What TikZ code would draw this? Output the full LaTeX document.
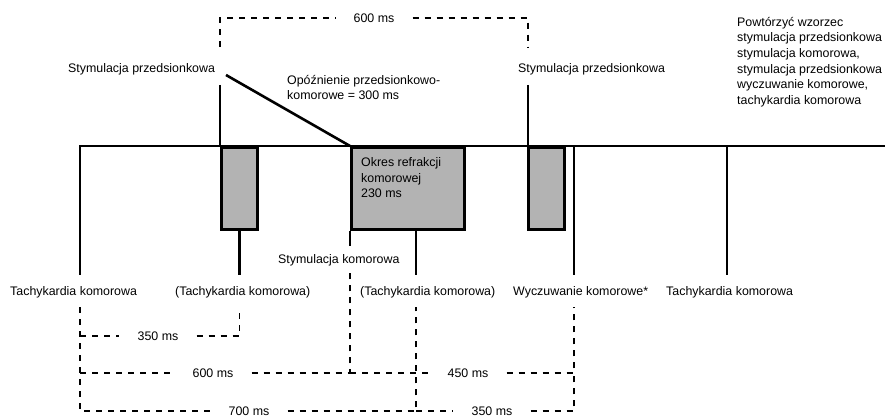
\documentclass[tikz,border=0pt]{standalone}
\usepackage{fontspec}
\setmainfont{Liberation Sans}
\definecolor{refgray}{RGB}{179,179,179}
\newcommand{\diagfont}{\fontsize{12.4}{15.6}\selectfont}
\usetikzlibrary{positioning}

\begin{document}
\begin{tikzpicture}[x=1pt, y=-1pt,
      every node/.style={font=\diagfont, inner sep=0pt},
      lbl/.style={anchor=base west},
      pulse/.style={line width=2.6pt},
      refbox/.style={draw, line width=2.6pt, fill=refgray, anchor=north west, minimum height=82pt},
      dim/.style={line width=1.2pt, dash pattern=on 6pt off 6pt},
      ms/.style={inner xsep=18pt}
    ]
    \useasboundingbox (0,0) rectangle (885,419);

    % Timeline points and levels
    \coordinate (t1) at (80,146);
    \coordinate (a1) at (220,146);
    \coordinate (v1) at (350,146);
    \coordinate (v2) at (416,146);
    \coordinate (a2) at (528,146);
    \coordinate (w1) at (574,146);
    \coordinate (t2) at (727,146);
    \coordinate (tend) at (885,146);
    \coordinate (yat) at (0,85);
    \coordinate (yend) at (0,275);
    \coordinate (ysk) at (0,246);
    \coordinate (ydt) at (0,47);
    \coordinate (ydb) at (0,307);
    \coordinate (ydv) at (0,272);
    \coordinate (avd) at (226,75);

    % Refractory boxes
    \node[refbox, minimum width=36pt] (ap1) at (a1) {};
    \node[refbox, minimum width=113pt] (vbox) at (v1) {};
    \node[refbox, minimum width=36pt] (ap2) at ([xshift=-1pt]a2) {};
    \node[lbl, align=left] (vrp) at (361,198) {Okres refrakcji\\komorowej\\230 ms};

    % Pulses
    \draw[pulse] (t1 |- yend) -- (t1) -- (tend);
    \draw[pulse] (a1 |- yat) -- (a1);
    \draw[pulse] (a2 |- yat) -- (a2);
    \draw[pulse] (avd) -- (v1);
    \draw[pulse] (ap1.south) -- (ap1.south |- yend);
    \draw[pulse] (v1 |- vbox.south) -- (v1 |- ysk);
    \draw[pulse] (v2 |- vbox.south) -- (v2 |- yend);
    \draw[pulse] (w1) -- (w1 |- yend);
    \draw[pulse] (t2) -- (t2 |- yend);

    % Labels
    \node[lbl] (sa1) at (68,73) {Stymulacja przedsionkowa};
    \node[lbl, align=left] (avdl) at (287,100) {Opóźnienie przedsionkowo-\\komorowe = 300 ms};
    \node[lbl] (sa2) at (518,73) {Stymulacja przedsionkowa};
    \node[lbl, align=left] (rep) at (737,104.4) {Powtórzyć wzorzec\\stymulacja przedsionkowa\\stymulacja komorowa,\\stymulacja przedsionkowa\\wyczuwanie komorowe,\\tachykardia komorowa};
    \node[lbl] (sv) at (278,264) {Stymulacja komorowa};
    \node[lbl] (tk1) at (10,295) {Tachykardia komorowa};
    \node[lbl] (tk2) at (175,295) {(Tachykardia komorowa)};
    \node[lbl] (tk3) at (360,295) {(Tachykardia komorowa)};
    \node[lbl] (wk) at (513,295) {Wyczuwanie komorowe*};
    \node[lbl] (tk4) at (666,295) {Tachykardia komorowa};

    % Intervals
    \node[ms] (m600t) at (374,18) {600 ms};
    \node[ms] (m350a) at (158,336) {350 ms};
    \node[ms] (m600b) at (213,373) {600 ms};
    \node[ms] (m700) at (249,411) {700 ms};
    \node[ms] (m450) at (468,373) {450 ms};
    \node[ms] (m350b) at (492,411) {350 ms};

    \draw[dim] (a1 |- ydt) |- (m600t) -| (a2 |- ydt);
    \draw[dim] (t1 |- ydb) |- (m700) -| (v2 |- ydb);
    \draw[dim] (t1 |- m350a) -- (m350a) -| (ap1.south |- ydb);
    \draw[dim] (t1 |- m600b) -- (m600b) -| (v1 |- ydv);
    \draw[dim] (v1 |- m450) -- (m450) -| (w1 |- ydb);
    \draw[dim] (v2 |- m350b) -- (m350b) -| (w1 |- m450);

  \end{tikzpicture}
\end{document}
